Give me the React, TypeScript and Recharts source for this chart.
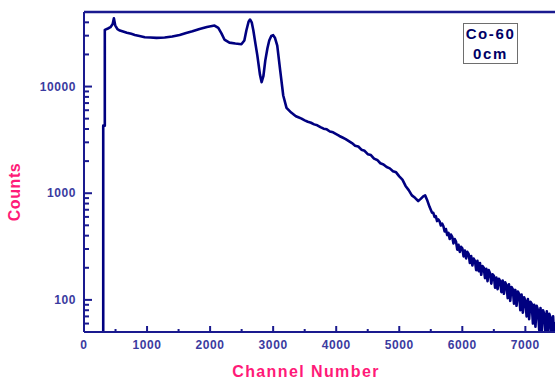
import { LineChart, Line, XAxis, YAxis, ReferenceLine } from 'recharts';

const AXIS = '#1a1a8f';
const LABEL = '#3b3ba0';
const PINK = '#ff1a78';
const TRACE = '#000080';

// channel numbers
const channels = [
  305, 305, 330, 330, 380, 420, 455, 474, 495, 530, 569, 620, 680, 750, 806, 880, 964,
  1050, 1150, 1280, 1400, 1517, 1620, 1720, 1833, 1950, 2070, 2130, 2180, 2227, 2306,
  2400, 2496, 2543, 2575, 2610, 2633, 2660, 2686, 2720, 2749, 2790, 2817, 2845, 2875,
  2910, 2938, 2970, 3000, 3030, 3065, 3112, 3160, 3212, 3286, 3360,
  3400, 3450, 3500, 3550, 3600, 3650, 3700, 3750, 3800, 3850, 3900, 3950, 4000, 4050,
  4100, 4150, 4200, 4250, 4300, 4350, 4400, 4450, 4500, 4550, 4600, 4650, 4700, 4750,
  4800, 4850, 4900, 4950, 5000, 5050, 5100, 5150, 5200, 5250, 5300, 5340, 5380, 5410,
  5440, 5480, 5520,
  5540, 5560, 5580, 5600, 5620, 5640, 5660, 5680, 5700, 5720, 5740, 5760, 5780, 5800,
  5820, 5840, 5860, 5880, 5900, 5920, 5940, 5960, 5980, 6000, 6020, 6040, 6060, 6080,
  6100, 6120, 6140, 6160, 6180, 6200, 6220, 6240, 6260, 6280, 6300, 6320, 6340, 6360,
  6380, 6400, 6420, 6440, 6460, 6480, 6500, 6520, 6540, 6560, 6580, 6600, 6620, 6640,
  6660, 6680, 6700, 6720, 6740, 6760, 6780, 6800, 6820, 6840, 6860, 6880, 6900, 6920,
  6940, 6960, 6980, 7000, 7020, 7040, 7060, 7080, 7100, 7120, 7140, 7160, 7180, 7200,
  7220, 7240, 7260, 7280, 7300, 7320, 7340, 7360, 7380, 7400, 7420, 7440, 7460, 7470,
];

const counts = [
  10, 4300, 4300, 34000, 35000, 36000, 38500, 43700, 37500, 34500, 33500, 32800, 32000,
  31200, 30500, 29800, 29000,
  28800, 28600, 28800, 29500, 30500, 31800, 33000, 34700, 36200, 37300, 35500, 31500,
  27600, 25800,
  25300, 24900, 27000, 33500, 40500, 42500, 40000, 33500, 25000, 19600, 13000, 11000,
  12500, 17500,
  23000, 27000, 29800, 30300, 28500, 24200, 14100, 8240, 6320, 5700, 5270,
  5150, 5000, 4820, 4680, 4580, 4420, 4330, 4170, 4030, 3970, 3790, 3720, 3580, 3440,
  3330, 3220, 3080, 2950, 2790, 2740, 2560, 2500, 2320, 2280, 2110, 2050, 1910, 1860,
  1760, 1710, 1610, 1570, 1440, 1340, 1170, 1070, 955, 905, 845, 885, 935, 955,
  870, 745, 655,
  655, 600, 610, 548, 568, 545, 498, 520, 490, 438, 462, 405, 425, 372,
  410, 390, 338, 372, 352, 296, 328, 282, 315, 305, 256, 290, 245, 282,
  270, 222, 258, 210, 244, 232, 190, 232, 186, 222, 172, 208, 200, 160,
  196, 150, 190, 178, 142, 174, 168, 130, 162, 126, 158, 150, 118, 152,
  114, 146, 138, 104, 140, 98, 132, 126, 92, 124, 88, 120, 114, 80,
  112, 76, 106, 98, 70, 102, 66, 96, 92, 60, 90, 56, 88, 80,
  52, 84, 50, 80, 74, 46, 78, 44, 74, 68, 42, 70, 40, 62,
];

const xTicks = [0, 500, 1000, 1500, 2000, 2500, 3000, 3500, 4000, 4500, 5000, 5500, 6000, 6500, 7000];
const yTicks = [
  60, 70, 80, 90, 100, 200, 300, 400, 500, 600, 700, 800, 900,
  1000, 2000, 3000, 4000, 5000, 6000, 7000, 8000, 9000, 10000, 20000, 30000, 40000,
];
const yMajor = [100, 1000, 10000];

const data = channels.map((ch, i) => ({ ch, counts: counts[i] }));

const XTick = (props: any) => {
  const { x, y, payload } = props;
  const major = payload.value % 1000 === 0;
  return (
    <g>
      <line x1={x} x2={x} y1={y} y2={y - (major ? 6 : 3)} stroke={AXIS} strokeWidth={2} />
      {major && (
        <text x={x} y={y + 17} textAnchor="middle" fill={LABEL} fontSize={12}
          fontWeight="bold" letterSpacing={0.6} fontFamily="Liberation Sans, Arial, sans-serif">
          {payload.value}
        </text>
      )}
    </g>
  );
};

const YTick = (props: any) => {
  const { x, y, payload } = props;
  const major = yMajor.includes(payload.value);
  return (
    <g>
      <line x1={x} x2={x + (major ? 8 : 5)} y1={y} y2={y} stroke={AXIS} strokeWidth={2} />
      {major && (
        <text x={x - 8} y={y + 4} textAnchor="end" fill={LABEL} fontSize={12}
          fontWeight="bold" letterSpacing={0.6} fontFamily="Liberation Sans, Arial, sans-serif">
          {payload.value}
        </text>
      )}
    </g>
  );
};

export default function App() {
  const font = 'Liberation Sans, Arial, sans-serif';
  return (
    <div style={{ position: 'absolute', left: 0, top: 0, width: 555, height: 381, background: '#fff' }}>
      <LineChart width={555} height={381} data={data} margin={{ top: 12, right: 0, bottom: 0, left: 0 }}>
        <XAxis
          dataKey="ch"
          type="number"
          domain={[0, 7470]}
          ticks={xTicks}
          interval={0}
          allowDataOverflow
          height={49}
          tickSize={0}
          tickMargin={0}
          tickLine={false}
          axisLine={{ stroke: AXIS, strokeWidth: 2 }}
          tick={<XTick />}
        />
        <YAxis
          scale="log"
          domain={[50, 50000]}
          ticks={yTicks}
          interval={0}
          allowDataOverflow
          width={84}
          tickSize={0}
          tickMargin={0}
          tickLine={false}
          axisLine={{ stroke: AXIS, strokeWidth: 2 }}
          tick={<YTick />}
        />
        <ReferenceLine y={50000} stroke={AXIS} strokeWidth={2.5} />
        <Line
          type="linear"
          dataKey="counts"
          stroke={TRACE}
          strokeWidth={2.6}
          strokeLinejoin="round"
          dot={false}
          isAnimationActive={false}
        />
      </LineChart>
      <div style={{
        position: 'absolute', left: 15, top: 192, transform: 'translate(-50%, -50%) rotate(-90deg)',
        color: PINK, fontFamily: font, fontWeight: 'bold', fontSize: 16, letterSpacing: 0.6, whiteSpace: 'nowrap',
      }}>
        Counts
      </div>
      <div style={{
        position: 'absolute', left: 306, top: 372, transform: 'translate(-50%, -50%)',
        color: PINK, fontFamily: font, fontWeight: 'bold', fontSize: 16, letterSpacing: 1.4, whiteSpace: 'nowrap',
      }}>
        Channel Number
      </div>
      <div style={{
        position: 'absolute', left: 463, top: 23, width: 53, height: 39, border: '1.5px solid #6e6e6e',
        color: '#000066', fontFamily: font, fontWeight: 'bold', fontSize: 15, letterSpacing: 1.6,
        textAlign: 'center', lineHeight: '20px',
      }}>
        <div>Co-60</div>
        <div>0cm</div>
      </div>
    </div>
  );
}
